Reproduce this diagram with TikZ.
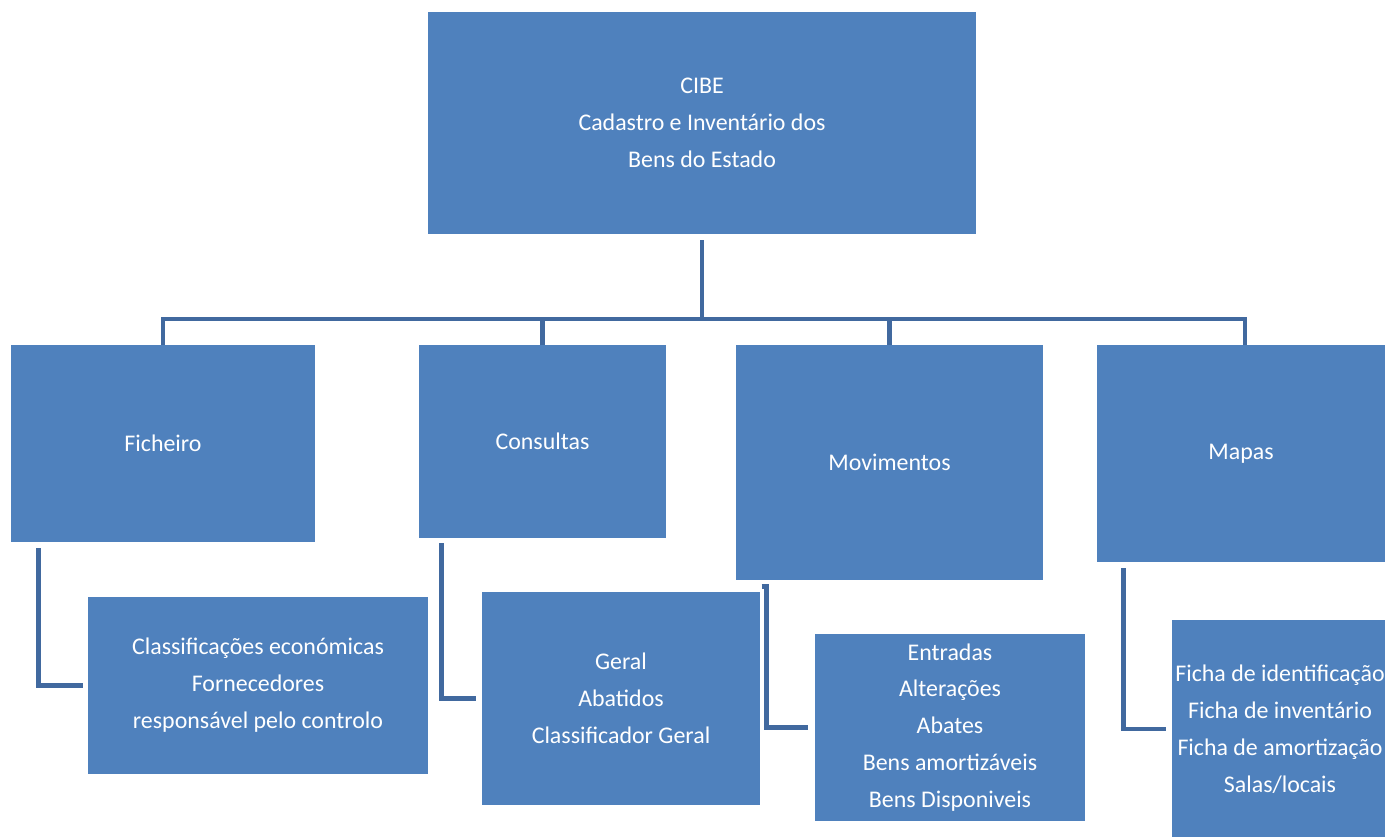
\documentclass[tikz,border=0pt]{standalone}
\usepackage{fontspec}
\setmainfont{Carlito}
\usetikzlibrary{positioning}
\definecolor{boxblue}{HTML}{4F81BD}
\definecolor{lineblue}{HTML}{41699F}

\begin{document}
\begin{tikzpicture}[x=0.02cm, y=-0.02cm,
    box/.style={rectangle, fill=boxblue, text=white, align=center, inner sep=0pt,
                font=\fontsize{13.6}{21}\selectfont},
    conn/.style={draw=lineblue, line width=2.8pt}]
    \useasboundingbox (0,0) rectangle (1385,836);
    \clip (0,0) rectangle (1385,836);

    % top
    \node[box, minimum width=10.96cm, minimum height=4.44cm] (cibe) at (702,123)
        {CIBE\\Cadastro e Inventário dos\\Bens do Estado};

    % menus
    \node[box, minimum width=6.08cm, minimum height=3.94cm] (fich)  at (163,443.5) {Ficheiro};
    \node[box, minimum width=4.94cm, minimum height=3.86cm] (cons)  at (542.5,441.5) {Consultas};
    \node[box, minimum width=6.14cm, minimum height=4.70cm] (mov)   at (889.5,462.5) {Movimentos};
    \node[box, minimum width=5.76cm, minimum height=4.34cm] (mapas) at (1241,453.5) {Mapas};

    % sub menus
    \node[box, minimum width=6.80cm, minimum height=3.54cm] (fichsub) at (258,685.5)
        {Classificações económicas\\Fornecedores\\responsável pelo controlo};
    \node[box, minimum width=5.56cm, minimum height=4.26cm] (conssub) at (621,698.5)
        {Geral\\Abatidos\\Classificador Geral};
    \node[box, minimum width=5.40cm, minimum height=3.74cm] (movsub) at (950,727.5)
        {Entradas\\Alterações\\Abates\\Bens amortizáveis\\Bens Disponiveis};
    \node[box, minimum width=4.32cm, minimum height=4.38cm] (mapsub) at (1280,729)
        {Ficha de identificação\\Ficha de inventário\\Ficha de amortização\\Salas/locais};

    \coordinate (hub) at (702,319);
    \draw[conn] ([yshift=-0.12cm]cibe.south) -- (hub);
    \draw[conn] (fich.north) |- (hub) -| ([xshift=0.08cm]mapas.north);
    \draw[conn] (cons.north) -- (cons.north |- hub);
    \draw[conn] (mov.north) -- (mov.north |- hub);

    \draw[conn] (fich.south west) ++(28,6) |- ([xshift=-0.1cm]fichsub.west);
    \draw[conn] (cons.south west) ++(23,5) |- ([xshift=-0.12cm]conssub.west);
    \draw[conn] (mov.south west) ++(26,6) -- ++(5,0) |- ([xshift=-0.14cm]movsub.west);
    \draw[conn] (mapas.south west) ++(27,6) |- ([xshift=-0.12cm]mapsub.west);
\end{tikzpicture}
\end{document}
